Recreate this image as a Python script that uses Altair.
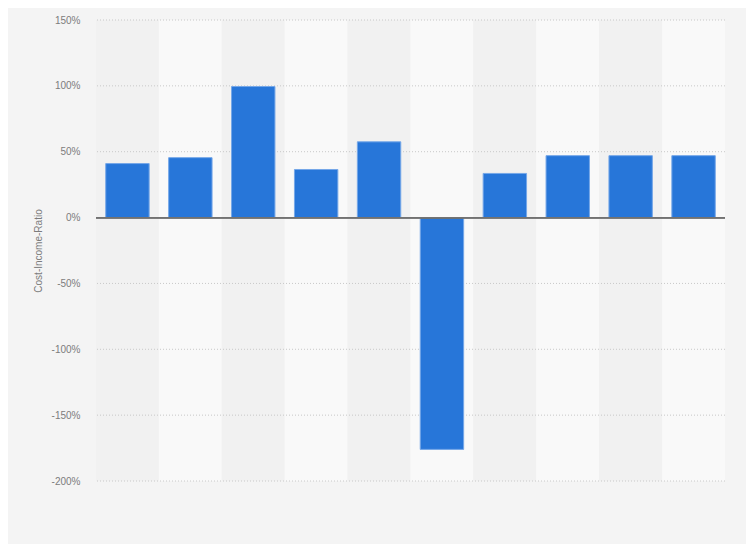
import altair as alt
import pandas as pd

categories = ["1", "2", "3", "4", "5", "6", "7", "8", "9", "10"]
values = [41, 45.5, 99.5, 36.5, 57.5, -176, 33.5, 47, 47, 47]
grid_ticks = [-200, -150, -100, -50, 0, 50, 100, 150]

df = pd.DataFrame({"cat": categories, "val": values})
df["idx"] = range(len(categories))
grid_df = pd.DataFrame({"tick": grid_ticks})

W, H = 629, 461

xenc = alt.X("cat:N", sort=categories,
             scale=alt.Scale(paddingInner=0, paddingOuter=0),
             axis=None)
yscale = alt.Scale(domain=[-200, 150], nice=False, zero=False)
yaxis = alt.Axis(values=grid_ticks, labelExpr="datum.value + '%'",
                 grid=False, domain=False, ticks=False,
                 labelColor="#7c7c7c", labelFontSize=10, labelFont="Liberation Sans",
                 labelPadding=16,
                 title="Cost-Income-Ratio", titleColor="#7c7c7c",
                 titleFontSize=10, titleFont="Liberation Sans", titleFontWeight="normal",
                 titleAngle=-90, titleX=-58, titleY=H / 2,
                 titleAlign="center", titleBaseline="middle")

bands = alt.Chart(df).mark_rect().encode(
    x=xenc,
    y=alt.value(0),
    y2=alt.value(H),
    fill=alt.condition("datum.idx % 2 == 1", alt.value("#f9f9f9"), alt.value("#f1f1f1")),
)

grid = alt.Chart(grid_df).mark_rule(strokeDash=[1, 2], color="#c8c8c8", strokeWidth=1).encode(
    y=alt.Y("tick:Q", scale=yscale, axis=yaxis),
)

bars = alt.Chart(df).mark_bar(color="#2776d9", stroke="#75a7e8", strokeWidth=1,
                              width=alt.RelativeBandSize(0.69)).encode(
    x=xenc,
    y=alt.Y("val:Q", scale=yscale, axis=yaxis),
    y2=alt.datum(0),
)

zero = alt.Chart(grid_df).mark_rule(color="#727272", strokeWidth=1.3).encode(
    y=alt.datum(0),
)

chart = alt.layer(bands, grid, bars, zero).properties(
    width=W, height=H,
    autosize=alt.AutoSizeParams(type="none"),
    padding={"left": 88, "top": 12, "right": 21, "bottom": 63},
    background="#f4f4f4",
).configure_view(stroke=None)

chart.save("out.html", embed_options={"renderer": "svg", "actions": False})
